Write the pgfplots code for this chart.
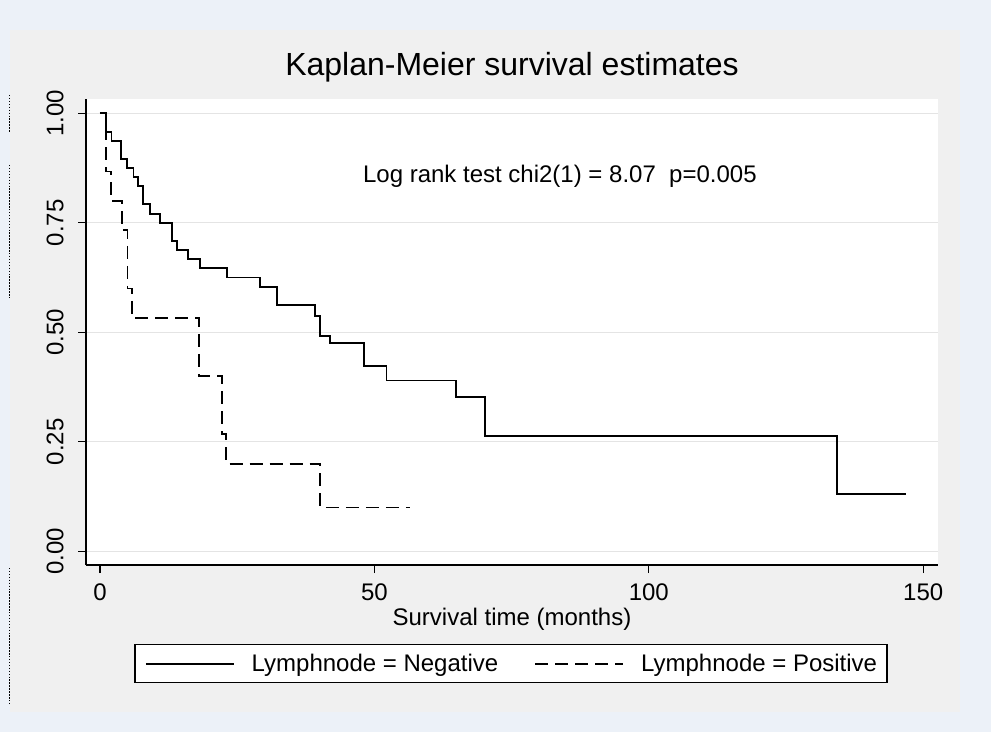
\documentclass[border=0pt]{standalone}
\usepackage{fontspec}
\setmainfont{Liberation Sans}
\usepackage{pgfplots}
\pgfplotsset{compat=1.18}
\definecolor{outerbg}{RGB}{236,241,248}
\definecolor{graphbg}{RGB}{240,240,240}
\definecolor{gridc}{RGB}{228,228,228}

\begin{document}
\begin{tikzpicture}[x=0.75pt,y=-0.75pt]
\fill[outerbg] (0,0) rectangle (991,732);
\fill[graphbg] (10,30) rectangle (960,712);
\draw[black, line width=1.2pt, dash pattern=on 1.1pt off 1.1pt] (9.5,95) -- (9.5,132);
\draw[black, line width=1.2pt, dash pattern=on 1.1pt off 1.1pt] (9.5,165) -- (9.5,298);
\draw[black, line width=1.2pt, dash pattern=on 1.1pt off 1.1pt] (9.5,568) -- (9.5,705);
\begin{axis}[
  at={(64.5pt,-423.75pt)}, anchor=south west,
  scale only axis, width=639pt, height=349.5pt,
  xmin=-2.55, xmax=152.7, ymin=-0.0313, ymax=1.0326,
  axis x line*=bottom, axis y line*=left,
  axis line style={-, black, line width=1pt},
  axis background/.style={fill=white},
  xtick={0,50,100,150},
  ytick={0,0.25,0.5,0.75,1},
  yticklabels={0.00,0.25,0.50,0.75,1.00},
  tick align=outside, major tick length=6pt,
  tick style={black, line width=1pt},
  ymajorgrids, grid style={gridc, line width=1pt},
  /pgf/number format/assume math mode=true,
  ticklabel style={font=\fontsize{18}{21}\selectfont},
  xticklabel style={anchor=base},
  xticklabel shift=20.6pt,
  yticklabel style={rotate=90, anchor=base},
  yticklabel shift=10.9pt,
  title={Kaplan-Meier survival estimates},
  title style={font=\fontsize{24}{28}\selectfont, at={(axis description cs:0.5,1)}, anchor=base, yshift=12pt},
  xlabel={Survival time (months)},
  xlabel style={font=\fontsize{18}{21}\selectfont, at={(axis description cs:0.5,0)}, anchor=base, yshift=-45.4pt},
  legend columns=2,
  legend style={at={(axis description cs:0.4988,-0.1695)}, anchor=north, draw=black, line width=1pt, fill=white,
    font=\fontsize{18}{21}\selectfont, inner xsep=7.5pt, inner ysep=7pt,
    nodes={inner sep=0pt, anchor=base west},
    /tikz/every odd column/.append style={column sep=12.75pt},
    /tikz/every even column/.append style={column sep=27pt}},
  legend image code/.code={\draw[#1] (0pt,5.5pt) -- (66pt,5.5pt);},
]
\addplot[const plot, black, line width=1.4pt] coordinates {
(0,1) (1.1,0.958) (2.1,0.9375) (3.8,0.896) (4.9,0.875) (6.1,0.854) (7.0,0.833)
(7.9,0.792) (9.1,0.771) (10.9,0.75) (13.1,0.708) (14.1,0.6875) (16.1,0.667)
(18.2,0.646) (23.1,0.625) (29.2,0.604) (32.2,0.562) (39.1,0.538) (40.1,0.491)
(41.9,0.475) (48.1,0.423) (52.2,0.39) (64.9,0.353) (70.2,0.263) (134.3,0.130)
(146.8,0.130)
};
\addplot[const plot, black, line width=1.4pt, dash pattern=on 9.75pt off 5.25pt] coordinates {
(0,1) (1.1,0.867) (2.0,0.8) (4.0,0.733) (5.0,0.6) (5.9,0.533) (18.1,0.4)
(22.2,0.267) (23.0,0.2) (40.1,0.1) (56.5,0.1)
};
\legend{Lymphnode = Negative, Lymphnode = Positive}
\node[anchor=base, font=\fontsize{18}{21}\selectfont] at (axis cs:83.8,0.841) {Log rank test chi2(1) = 8.07\ \ p=0.005};
\end{axis}
\end{tikzpicture}
\end{document}
